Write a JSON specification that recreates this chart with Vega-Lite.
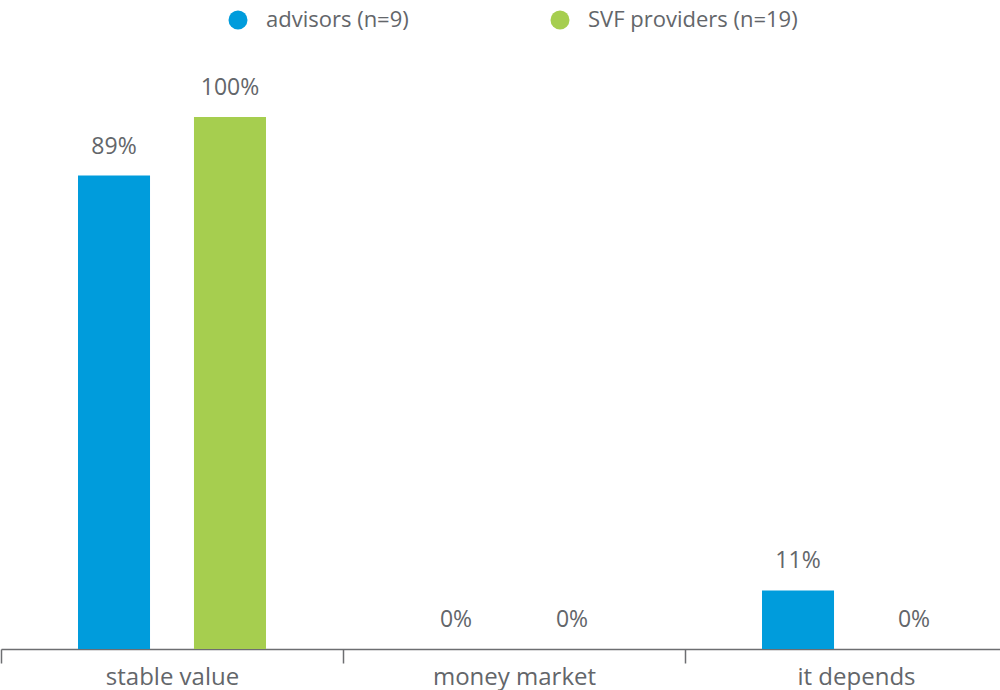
{
  "$schema": "https://vega.github.io/schema/vega-lite/v6.json",
  "width": 1026,
  "height": 532,
  "autosize": {"type": "none"},
  "padding": {"left": 1, "top": 117, "right": 0, "bottom": 41},
  "background": "white",
  "config": {
    "view": {"stroke": null},
    "font": "Open Sans",
    "text": {"font": "Open Sans"}
  },
  "data": {
    "values": [
      {"category": "stable value", "group": "advisors (n=9)", "value": 0.89},
      {"category": "stable value", "group": "SVF providers (n=19)", "value": 1.0},
      {"category": "money market", "group": "advisors (n=9)", "value": 0},
      {"category": "money market", "group": "SVF providers (n=19)", "value": 0},
      {"category": "it depends", "group": "advisors (n=9)", "value": 0.11},
      {"category": "it depends", "group": "SVF providers (n=19)", "value": 0}
    ]
  },
  "encoding": {
    "x": {
      "field": "category",
      "type": "nominal",
      "sort": ["stable value", "money market", "it depends"],
      "scale": {"paddingInner": 0, "paddingOuter": 0},
      "axis": {
        "title": null,
        "labelAngle": 0,
        "labelFont": "Open Sans",
        "labelFontSize": 24,
        "labelColor": "#63666a",
        "labelPadding": 2,
        "domainColor": "#6d6e71",
        "domainWidth": 1.5,
        "tickColor": "#6d6e71",
        "tickWidth": 1.5,
        "tickSize": 14,
        "tickBand": "extent",
        "grid": false
      }
    },
    "xOffset": {
      "field": "group",
      "type": "nominal",
      "sort": ["advisors (n=9)", "SVF providers (n=19)"],
      "scale": {"paddingInner": 0.379, "paddingOuter": 0.664}
    },
    "y": {
      "field": "value",
      "type": "quantitative",
      "scale": {"domain": [0, 1], "nice": false, "zero": true},
      "axis": null
    }
  },
  "layer": [
    {
      "mark": {"type": "bar"},
      "encoding": {
        "color": {
          "field": "group",
          "type": "nominal",
          "sort": ["advisors (n=9)", "SVF providers (n=19)"],
          "scale": {"domain": ["advisors (n=9)", "SVF providers (n=19)"], "range": ["#009cdc", "#a6ce4f"]},
          "legend": {
            "title": null,
            "orient": "none",
            "direction": "horizontal",
            "legendX": 226,
            "legendY": -108,
            "padding": 0,
            "symbolType": "circle",
            "symbolSize": 360,
            "symbolStrokeWidth": 0,
            "labelFont": "Open Sans",
            "labelFontSize": 22,
            "labelColor": "#63666a",
            "labelOffset": 17,
            "columnPadding": 140,
            "labelLimit": 400
          }
        }
      }
    },
    {
      "mark": {"type": "text", "baseline": "bottom", "dy": -17, "fontSize": 23, "color": "#63666a", "font": "Open Sans"},
      "encoding": {
        "text": {"field": "value", "type": "quantitative", "format": ".0%"}
      }
    }
  ]
}
